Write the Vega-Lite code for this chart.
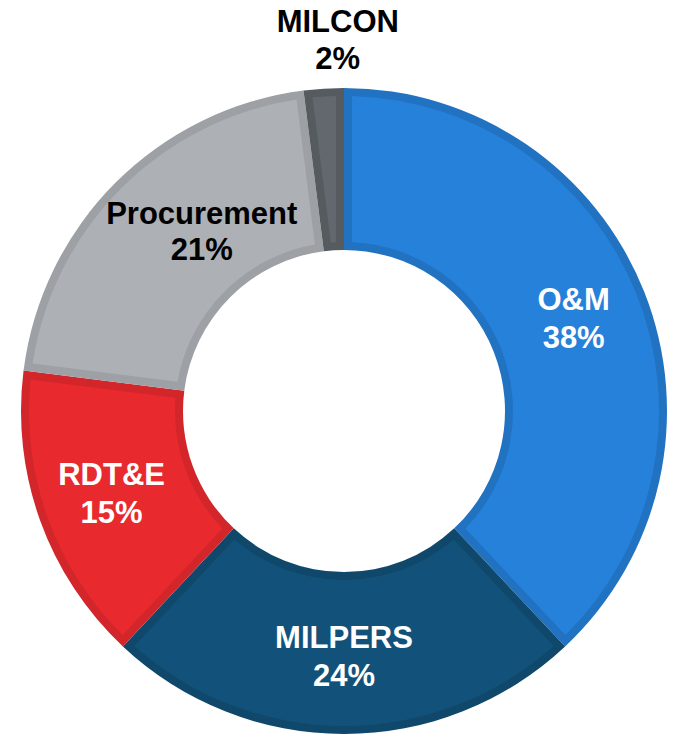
{
  "$schema": "https://vega.github.io/schema/vega-lite/v6.json",
  "width": 650,
  "height": 650,
  "autosize": "none",
  "padding": {"left": 19, "top": 86, "right": 10, "bottom": 0},
  "background": "white",
  "data": {
    "values": [
      {"name": "O&M", "pct": 0.38, "rank": 1},
      {"name": "MILPERS", "pct": 0.24, "rank": 2},
      {"name": "RDT&E", "pct": 0.15, "rank": 3},
      {"name": "Procurement", "pct": 0.21, "rank": 4},
      {"name": "MILCON", "pct": 0.02, "rank": 5}
    ]
  },
  "encoding": {
    "theta": {"field": "pct", "type": "quantitative", "stack": true},
    "order": {"field": "rank", "type": "quantitative"}
  },
  "layer": [
    {
      "mark": {"type": "arc", "outerRadius": 323, "innerRadius": 161},
      "encoding": {
        "color": {
          "field": "name", "type": "nominal", "legend": null,
          "scale": {
            "domain": ["O&M", "MILPERS", "RDT&E", "Procurement", "MILCON"],
            "range": ["#2272C2", "#0F486B", "#D2262B", "#9DA1A5", "#565B60"]
          }
        }
      }
    },
    {
      "mark": {"type": "arc", "outerRadius": 315, "innerRadius": 169, "padAngle": 0.045},
      "encoding": {
        "color": {
          "field": "name", "type": "nominal", "legend": null,
          "scale": {
            "domain": ["O&M", "MILPERS", "RDT&E", "Procurement", "MILCON"],
            "range": ["#2581D9", "#12527A", "#E8292D", "#ADB1B6", "#63686E"]
          }
        }
      }
    },
    {
      "mark": {"type": "text", "radius": 247, "dy": -19, "fill": "white", "font": "Liberation Sans", "fontWeight": "bold", "fontSize": 31},
      "encoding": {
        "text": {"condition": {"test": "datum.rank <= 3", "field": "name", "type": "nominal"}, "value": ""}
      }
    },
    {
      "mark": {"type": "text", "radius": 247, "dy": 19, "fill": "white", "font": "Liberation Sans", "fontWeight": "bold", "fontSize": 31},
      "encoding": {
        "text": {"condition": {"test": "datum.rank <= 3", "field": "pct", "type": "quantitative", "format": ".0%"}, "value": ""}
      }
    },
    {
      "mark": {"type": "text", "radius": 245, "dx": 31, "dy": -23, "fill": "black", "font": "Liberation Sans", "fontWeight": "bold", "fontSize": 31},
      "encoding": {
        "text": {"condition": {"test": "datum.name == 'Procurement'", "field": "name", "type": "nominal"}, "value": ""}
      }
    },
    {
      "mark": {"type": "text", "radius": 245, "dx": 31, "dy": 13, "fill": "black", "font": "Liberation Sans", "fontWeight": "bold", "fontSize": 31},
      "encoding": {
        "text": {"condition": {"test": "datum.name == 'Procurement'", "field": "pct", "type": "quantitative", "format": ".0%"}, "value": ""}
      }
    },
    {
      "mark": {"type": "text", "radius": 370, "dx": 17, "dy": -19, "fill": "black", "font": "Liberation Sans", "fontWeight": "bold", "fontSize": 31},
      "encoding": {
        "text": {"condition": {"test": "datum.name == 'MILCON'", "field": "name", "type": "nominal"}, "value": ""}
      }
    },
    {
      "mark": {"type": "text", "radius": 370, "dx": 17, "dy": 18, "fill": "black", "font": "Liberation Sans", "fontWeight": "bold", "fontSize": 31},
      "encoding": {
        "text": {"condition": {"test": "datum.name == 'MILCON'", "field": "pct", "type": "quantitative", "format": ".0%"}, "value": ""}
      }
    }
  ],
  "resolve": {"scale": {"color": "independent"}},
  "config": {"view": {"stroke": null}}
}
